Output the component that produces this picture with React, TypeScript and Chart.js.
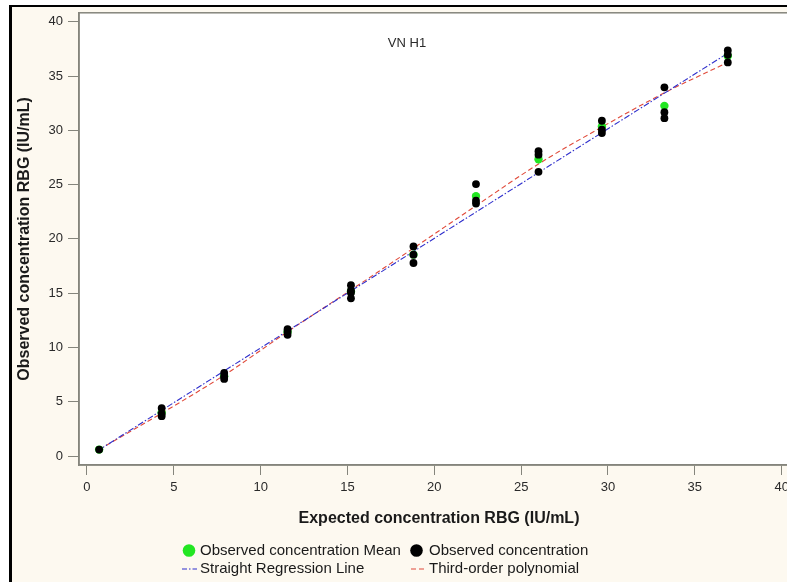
import React, { useEffect, useRef } from "react";
import { Chart, registerables } from "chart.js";

Chart.register(...registerables);

// ---- data ----
const chartTitle = "VN H1";
const xTitle = "Expected concentration RBG (IU/mL)";
const yTitle = "Observed concentration RBG (IU/mL)";

const xTicks = [0, 5, 10, 15, 20, 25, 30, 35, 40];
const yTicks = [0, 5, 10, 15, 20, 25, 30, 35, 40];

// expected levels
const expectedLevels = [0.7, 4.3, 7.9, 11.55, 15.2, 18.8, 22.4, 26.0, 29.65, 33.25, 36.9];

// observed replicates (x, y)
const observedX = [
  0.7,
  4.3, 4.3, 4.3,
  7.9, 7.9, 7.9,
  11.55, 11.55, 11.55,
  15.2, 15.2, 15.2, 15.2,
  18.8, 18.8, 18.8,
  22.4, 22.4, 22.4,
  26.0, 26.0, 26.0,
  29.65, 29.65, 29.65,
  33.25, 33.25, 33.25,
  36.9, 36.9, 36.9,
];
const observedY = [
  0.6,
  4.42, 3.9, 3.68,
  7.66, 7.32, 7.11,
  11.69, 11.44, 11.17,
  15.74, 15.25, 15.05, 14.53,
  19.31, 18.55, 17.78,
  25.05, 23.52, 23.25,
  28.07, 27.76, 26.18,
  30.88, 30.05, 29.75,
  33.96, 31.67, 31.12,
  37.35, 36.95, 36.25,
];

// observed means per level
const meanY = [0.6, 4.0, 7.36, 11.43, 15.15, 18.55, 23.94, 27.34, 30.35, 32.25, 36.85];

// straight regression line (end points)
const regressionX = [0.7, 36.9];
const regressionY = [0.58, 37.1];

// third-order polynomial (values at each level)
const polyY = [0.6, 3.95, 7.45, 11.45, 15.3, 19.15, 23.05, 26.9, 30.3, 33.45, 36.25];

const FONT = '"Liberation Sans", Arial, sans-serif';

const pts = (xs: number[], ys: number[]) => xs.map((x, i) => ({ x, y: ys[i] }));

export default function App() {
  const ref = useRef<HTMLCanvasElement | null>(null);

  useEffect(() => {
    if (!ref.current) return;

    const framePlugin = {
      id: "frame",
      beforeDraw(chart: any) {
        const { ctx, chartArea: a } = chart;
        ctx.save();
        ctx.fillStyle = "#ffffff";
        ctx.fillRect(a.left, a.top, a.right - a.left, a.bottom - a.top);
        ctx.restore();
      },
      beforeDatasetsDraw(chart: any) {
        const { ctx } = chart;
        ctx.save();
        ctx.font = `13px ${FONT}`;
        ctx.fillStyle = "#2a2a2a";
        ctx.textAlign = "center";
        ctx.textBaseline = "middle";
        ctx.fillText(chartTitle, 407, 43);
        ctx.restore();
      },
      afterDraw(chart: any) {
        const { ctx, chartArea: a } = chart;
        ctx.save();
        ctx.strokeStyle = "#85857c";
        ctx.lineWidth = 1.5;
        ctx.strokeRect(a.left, a.top, a.right - a.left, a.bottom - a.top);
        ctx.restore();

        // legend
        const ds = chart.data.datasets;
        ctx.save();
        ctx.font = `15px ${FONT}`;
        ctx.textBaseline = "middle";
        ctx.textAlign = "left";
        const textColor = "#1a1a1a";
        const row1 = 550.5;
        const row2 = 569;
        // mean
        ctx.beginPath();
        ctx.fillStyle = ds[0].backgroundColor;
        ctx.arc(189, row1, 6.3, 0, Math.PI * 2);
        ctx.fill();
        ctx.fillStyle = textColor;
        ctx.fillText(ds[0].label, 200, row1);
        // observed
        ctx.beginPath();
        ctx.fillStyle = ds[1].backgroundColor;
        ctx.arc(416.5, row1, 6.3, 0, Math.PI * 2);
        ctx.fill();
        ctx.fillStyle = textColor;
        ctx.fillText(ds[1].label, 429, row1);
        // regression
        ctx.strokeStyle = ds[2].borderColor;
        ctx.lineWidth = 1.2;
        ctx.setLineDash([5, 2, 1.5, 2]);
        ctx.beginPath();
        ctx.moveTo(182, row2);
        ctx.lineTo(197, row2);
        ctx.stroke();
        ctx.fillText(ds[2].label, 200, row2);
        // poly
        ctx.strokeStyle = ds[3].borderColor;
        ctx.setLineDash([5, 3]);
        ctx.beginPath();
        ctx.moveTo(411, row2);
        ctx.lineTo(427, row2);
        ctx.stroke();
        ctx.fillText(ds[3].label, 429, row2);
        ctx.restore();
      },
    };

    const chart = new Chart(ref.current, {
      type: "scatter",
      data: {
        datasets: [
          {
            label: "Observed concentration Mean",
            data: pts(expectedLevels, meanY),
            backgroundColor: "#22e622",
            borderWidth: 0,
            pointRadius: 4.2,
            order: 1,
          },
          {
            label: "Observed concentration",
            data: pts(observedX, observedY),
            backgroundColor: "#000000",
            borderWidth: 0,
            pointRadius: 3.9,
            order: 0,
          },
          {
            label: "Straight Regression Line",
            data: pts(regressionX, regressionY),
            showLine: true,
            borderColor: "#2f2fcc",
            borderWidth: 1.1,
            borderDash: [6, 2, 1.5, 2],
            pointRadius: 0,
            order: 2,
          },
          {
            label: "Third-order polynomial",
            data: pts(expectedLevels, polyY),
            showLine: true,
            borderColor: "#e04a3a",
            borderWidth: 1.1,
            borderDash: [5, 3],
            pointRadius: 0,
            cubicInterpolationMode: "monotone",
            order: 3,
          },
        ] as any,
      },
      options: {
        animation: false,
        responsive: false,
        devicePixelRatio: 1,
        layout: { padding: { left: 0, top: 10, right: 13, bottom: 47 } },
        plugins: {
          legend: { display: false },
          tooltip: { enabled: false },
        },
        scales: {
          x: {
            type: "linear",
            min: -0.46,
            max: 41,
            afterBuildTicks: (axis: any) => {
              axis.ticks = xTicks.map((v) => ({ value: v }));
            },
            afterFit: (axis: any) => {
              axis.height = 70;
            },
            grid: {
              display: true,
              drawOnChartArea: false,
              drawTicks: true,
              tickLength: 10,
              color: "#85857c",
            },
            border: { display: true, color: "#85857c", width: 1.5 },
            ticks: {
              padding: 5,
              color: "#2a2a2a",
              font: { family: FONT, size: 13 },
              maxRotation: 0,
            },
            title: {
              display: true,
              text: xTitle,
              color: "#1a1a1a",
              font: { family: FONT, size: 16, weight: "bold" },
              padding: { top: 0, bottom: 7 },
            },
          },
          y: {
            type: "linear",
            min: -0.82,
            max: 40.82,
            afterBuildTicks: (axis: any) => {
              axis.ticks = yTicks.map((v) => ({ value: v }));
            },
            afterFit: (axis: any) => {
              axis.width = 79;
            },
            grid: {
              display: true,
              drawOnChartArea: false,
              drawTicks: true,
              tickLength: 11,
              color: "#85857c",
            },
            border: { display: true, color: "#85857c", width: 1.5 },
            ticks: {
              padding: 5,
              color: "#2a2a2a",
              font: { family: FONT, size: 13 },
            },
            title: {
              display: true,
              text: yTitle,
              color: "#1a1a1a",
              font: { family: FONT, size: 16, weight: "bold" },
              padding: { top: 15, bottom: 0 },
            },
          },
        },
      } as any,
      plugins: [framePlugin],
    });

    return () => chart.destroy();
  }, []);

  return (
    <div
      style={{
        position: "fixed",
        left: 0,
        top: 0,
        width: 787,
        height: 582,
        overflow: "hidden",
        background: "#ffffff",
      }}
    >
      <div
        style={{
          position: "absolute",
          left: 9,
          top: 5,
          width: 820,
          height: 620,
          borderLeft: "3px solid #000",
          borderTop: "2px solid #000",
          background: "#fdf9f0",
        }}
      />
      <canvas
        ref={ref}
        width={812}
        height={582}
        style={{ position: "absolute", left: 0, top: 0, width: 812, height: 582 }}
      />
    </div>
  );
}
